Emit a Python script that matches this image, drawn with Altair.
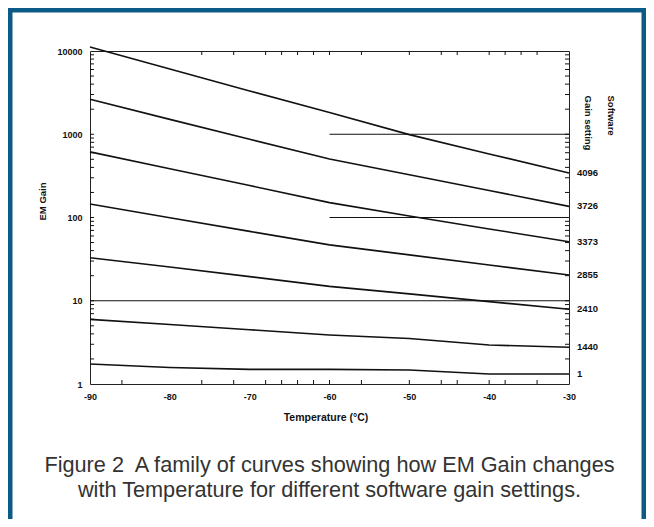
import altair as alt
import pandas as pd

# ---- data ----
TEMPS = [-90, -80, -70, -60, -50, -40, -30]
SETTINGS = ["4096", "3726", "3373", "2855", "2410", "1440", "1"]
GAIN_4096 = [11170, 6080, 3310, 1820, 990, 580, 343]
GAIN_3726 = [2630, 1510, 870, 505, 327, 211, 136]
GAIN_3373 = [614, 385, 242, 151, 104, 72.8, 51.2]
GAIN_2855 = [145, 99.5, 68.1, 46.9, 35.6, 26.9, 20.4]
GAIN_2410 = [32.9, 25.4, 19.5, 14.9, 12.1, 9.77, 7.89]
GAIN_1440 = [5.98, 5.19, 4.49, 3.88, 3.52, 2.94, 2.76]
GAIN_1 = [1.74, 1.58, 1.50, 1.50, 1.47, 1.32, 1.32]
SERIES = [GAIN_4096, GAIN_3726, GAIN_3373, GAIN_2855, GAIN_2410, GAIN_1440, GAIN_1]

REF_GAIN = [1000, 100, 10]
REF_START = [-60, -60, -90]
REF_END = [-30, -30, -30]

X_LABELS = [-90, -80, -70, -60, -50, -40, -30]
Y_LABELS = [1, 10, 100, 1000, 10000]
Y_MINOR = [2, 3, 4, 5, 6, 7, 8, 9, 10, 20, 30, 40, 50, 60, 70, 80, 90, 100,
           200, 300, 400, 500, 600, 700, 800, 900, 1000,
           2000, 3000, 4000, 5000, 6000, 7000, 8000, 9000]
TOP_TICKS = [-76, -72, -68, -66, -64, -62, -60, -56, -50, -46, -44, -40, -38, -36, -34]
BOTTOM_TICKS = [-86, -76, -72, -68, -66, -64, -62, -60, -56, -50, -46, -44, -40, -38, -34]

CAPTION = ["Figure 2\u00a0 A family of curves showing how EM Gain changes",
           "with Temperature for different software gain settings."]

W, H = 479, 333
BLUE = "#0c5a86"
INK = "#111111"
FONT = "Liberation Sans"

curve_df = pd.DataFrame(
    [{"temp": t, "gain": g, "setting": s}
     for s, vals in zip(SETTINGS, SERIES) for t, g in zip(TEMPS, vals)]
)
label_df = pd.DataFrame(
    {"temp": [TEMPS[-1]] * len(SETTINGS), "gain": [v[-1] for v in SERIES], "setting": SETTINGS}
)
ref_df = pd.DataFrame({"gain": REF_GAIN, "temp": REF_START, "temp_end": REF_END})
ymin_df = pd.DataFrame({"gain": Y_MINOR})
top_df = pd.DataFrame({"temp": TOP_TICKS})
bot_df = pd.DataFrame({"temp": BOTTOM_TICKS})

xs = alt.Scale(domain=[-90, -30], nice=False, zero=False)
ys = alt.Scale(type="log", domain=[1, 10000], nice=False)

border = alt.Chart(pd.DataFrame({"k": [0]})).mark_rect(
    filled=False, stroke=BLUE, strokeWidth=9
).encode(x=alt.value(-82), x2=alt.value(W + 77), y=alt.value(-43), y2=alt.value(H + 170))

refs = alt.Chart(ref_df).mark_rule(color=INK, strokeWidth=1).encode(
    x=alt.X("temp:Q", scale=xs, axis=None),
    x2="temp_end:Q",
    y=alt.Y("gain:Q", scale=ys, axis=None),
)

curves = alt.Chart(curve_df).mark_line(color=INK, strokeWidth=1.6).encode(
    x=alt.X("temp:Q", scale=xs, axis=alt.Axis(
        values=X_LABELS, labelExpr="datum.value + ''", ticks=False, tickSize=0,
        domain=False, grid=False, labelFlush=False, labelPadding=8,
        labelFontSize=9, labelFontWeight="bold", labelColor=INK,
        title="Temperature (\u00b0C)",
        titleFontSize=10.5, titleFontWeight="bold", titleColor=INK,
        titleX=W / 2 - 4, titleY=33, titleBaseline="middle", titleAlign="center")),
    y=alt.Y("gain:Q", scale=ys, axis=alt.Axis(
        values=Y_LABELS, format="d", ticks=False, tickSize=0, domain=False, grid=False,
        labelPadding=8, labelFontSize=9, labelFontWeight="bold", labelColor=INK,
        title="EM Gain",
        titleFontSize=9.5, titleFontWeight="bold", titleColor=INK, titleAngle=270,
        titleX=-48, titleY=150, titleAlign="center", titleBaseline="middle")),
    detail="setting:N",
)

left_ticks = alt.Chart(ymin_df).mark_rule(color=INK, strokeWidth=1).encode(
    y=alt.Y("gain:Q", scale=ys, axis=None), x=alt.value(0), x2=alt.value(4))
right_ticks = alt.Chart(ymin_df).mark_rule(color=INK, strokeWidth=1).encode(
    y=alt.Y("gain:Q", scale=ys, axis=None), x=alt.value(W - 4), x2=alt.value(W))
top_ticks = alt.Chart(top_df).mark_rule(color=INK, strokeWidth=1).encode(
    x=alt.X("temp:Q", scale=xs, axis=None), y=alt.value(0), y2=alt.value(4))
bottom_ticks = alt.Chart(bot_df).mark_rule(color=INK, strokeWidth=1).encode(
    x=alt.X("temp:Q", scale=xs, axis=None), y=alt.value(H - 4), y2=alt.value(H))

labels = alt.Chart(label_df).mark_text(
    align="left", baseline="middle", dx=8, fontSize=9.5, fontWeight="bold",
    color=INK, font=FONT
).encode(
    x=alt.X("temp:Q", scale=xs, axis=None),
    y=alt.Y("gain:Q", scale=ys, axis=alt.Axis(
        orient="right", labels=False, ticks=False, domain=False, grid=False,
        title=["Software", "Gain setting"], titleAngle=90, titleX=46, titleY=44,
        titleAlign="left", titleBaseline="top", titleFontSize=9.5, titleLineHeight=23,
        titleFontWeight="bold", titleColor=INK)),
    text="setting:N",
)

chart = alt.layer(
    border, refs, curves, left_ticks, right_ticks, top_ticks, bottom_ticks, labels
).resolve_scale(x="independent", y="independent").properties(
    width=W, height=H,
    padding={"left": 82, "top": 43, "right": 77, "bottom": 135},
    autosize=alt.AutoSizeParams(type="none"),
    background="white",
    title=alt.TitleParams(
        text=CAPTION, orient="bottom", anchor="middle", frame="group",
        fontSize=21.7, lineHeight=25, font=FONT, fontWeight="normal",
        color="#333333", offset=-104),
).configure_view(stroke="#222222", strokeWidth=1).configure_axis(
    labelFont=FONT, titleFont=FONT
)

chart.save("out.html", embed_options={"renderer": "svg", "actions": False})
